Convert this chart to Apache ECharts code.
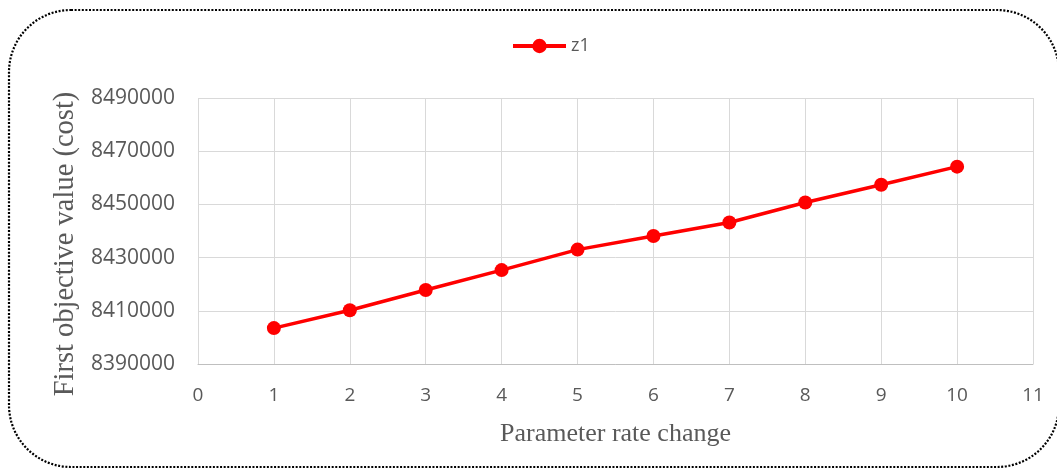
<!DOCTYPE html>
<html>
<head>
<meta charset="utf-8">
<script src="https://cdn.jsdelivr.net/npm/echarts@6/dist/echarts.min.js"></script>
<style>
  html, body { margin: 0; padding: 0; background: #fff; }
  #chart { width: 1057px; height: 471px; }
</style>
</head>
<body>
<div id="chart"></div>
<script>
// Parameter rate change steps and the resulting cost (z1)
const rateSteps = [1, 2, 3, 4, 5, 6, 7, 8, 9, 10];
const z1Values = [8403500, 8410200, 8417800, 8425300, 8433000, 8438100, 8443200, 8450700, 8457400, 8464200];
const seriesName = 'z1';
const xTitle = 'Parameter rate change';
const yTitle = 'First objective value (cost)';

const labelFont = '"Open Sans", "Noto Sans", sans-serif';
const titleFont = '"Liberation Serif", "DejaVu Serif", serif';
const textGray = '#595959';
const gridGray = '#d9d9d9';

const chart = echarts.init(document.getElementById('chart'), null, { renderer: 'canvas' });

chart.setOption({
  animation: false,
  backgroundColor: '#fff',
  graphic: [{
    type: 'rect',
    silent: true,
    shape: { x: 9, y: 10, width: 1050, height: 457, r: 62 },
    style: { fill: 'none', stroke: '#000', lineWidth: 2.2, lineDash: [2, 1.6] }
  }],
  legend: {
    top: 37,
    left: 511,
    padding: 0,
    itemWidth: 53,
    itemHeight: 18,
    itemGap: 4,
    lineStyle: { width: 4 },
    textStyle: { fontFamily: labelFont, fontSize: 18, color: textGray },
    data: [{ name: seriesName }]
  },
  grid: { left: 198, right: 24, top: 98, bottom: 107, containLabel: false },
  xAxis: {
    type: 'value',
    min: 0,
    max: 11,
    interval: 1,
    name: xTitle,
    nameLocation: 'middle',
    nameGap: 57,
    nameTextStyle: { fontFamily: titleFont, fontSize: 26, color: textGray },
    axisLine: { show: true, lineStyle: { color: '#bfbfbf', width: 1 } },
    axisTick: { show: false },
    axisLabel: { margin: 22, fontFamily: labelFont, fontSize: 19, color: textGray },
    splitLine: { show: true, lineStyle: { color: gridGray, width: 1 } }
  },
  yAxis: {
    type: 'value',
    min: 8390000,
    max: 8490000,
    interval: 20000,
    name: yTitle,
    nameLocation: 'middle',
    nameGap: 107,
    nameTextStyle: {
      fontFamily: titleFont,
      fontSize: 28.5,
      color: textGray,
      padding: [0, 26, 0, 0]
    },
    axisLine: { show: false },
    axisTick: { show: false },
    axisLabel: {
      margin: 23,
      fontFamily: labelFont,
      fontSize: 21,
      color: textGray,
      formatter: (v) => String(v)
    },
    splitLine: { show: true, lineStyle: { color: gridGray, width: 1 } }
  },
  series: [{
    name: seriesName,
    type: 'line',
    data: rateSteps.map((x, i) => [x, z1Values[i]]),
    symbol: 'circle',
    symbolSize: 14,
    itemStyle: { color: '#ff0000' },
    lineStyle: { color: '#ff0000', width: 3.5 }
  }]
});
</script>
</body>
</html>
